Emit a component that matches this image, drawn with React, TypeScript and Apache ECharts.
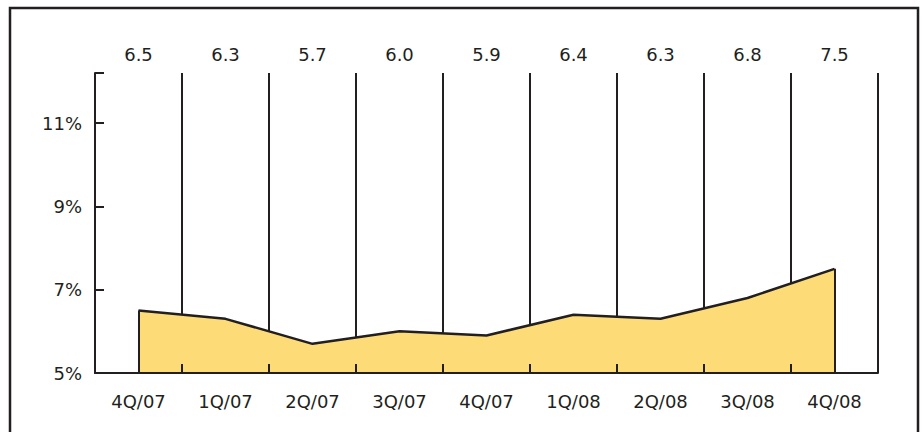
import React, { useEffect, useRef } from "react";
import * as echarts from "echarts";

const categories = ["4Q/07", "1Q/07", "2Q/07", "3Q/07", "4Q/07", "1Q/08", "2Q/08", "3Q/08", "4Q/08"];
const values = [6.5, 6.3, 5.7, 6.0, 5.9, 6.4, 6.3, 6.8, 7.5];
const topLabels = ["6.5", "6.3", "5.7", "6.0", "5.9", "6.4", "6.3", "6.8", "7.5"];
const yMin = 5;
const yMax = 12.2;
const yLabelValues = [5, 7, 9, 11];
const yTickValues = [5, 7, 9, 11, 12.2];

const DARK = "#231f20";
const FONT = "DejaVu Sans";

export default function App() {
  const ref = useRef<HTMLDivElement>(null);
  useEffect(() => {
    if (!ref.current) return;
    const chart = echarts.init(ref.current, null, { renderer: "svg" });
    const n = values.length;
    chart.setOption({
      animation: false,
      backgroundColor: "#ffffff",
      grid: { left: 95, right: 44, top: 73, bottom: 59 },
      graphic: [
        {
          type: "rect",
          shape: { x: 10, y: 8, width: 908, height: 440 },
          style: { fill: "none", stroke: DARK, lineWidth: 2.5 },
          z: 100,
        },
      ],
      xAxis: [
        {
          type: "category",
          position: "bottom",
          data: categories,
          boundaryGap: true,
          z: 10,
          axisLine: { show: true, lineStyle: { color: DARK, width: 2 } },
          axisTick: { show: true, inside: true, length: 9, lineStyle: { color: DARK, width: 2 } },
          axisLabel: { color: DARK, fontSize: 18, fontFamily: FONT, margin: 19 },
          splitLine: { show: false },
        },
        {
          type: "category",
          position: "top",
          data: topLabels,
          boundaryGap: true,
          axisLine: { show: false },
          axisTick: { show: false },
          axisLabel: { color: DARK, fontSize: 18, fontFamily: FONT, margin: 10 },
          splitLine: { show: true, lineStyle: { color: DARK, width: 2 } },
        },
      ],
      yAxis: {
        type: "value",
        min: yMin,
        max: yMax,
        axisLine: { show: true, lineStyle: { color: DARK, width: 2 } },
        axisTick: {
          show: true,
          inside: true,
          length: 9,
          customValues: yTickValues,
          lineStyle: { color: DARK, width: 2 },
        },
        axisLabel: {
          color: DARK,
          fontSize: 18,
          fontFamily: FONT,
          margin: 13,
          customValues: yLabelValues,
          formatter: (v: number) => `${v}%`,
        },
        splitLine: { show: false },
      },
      series: [
        {
          type: "line",
          xAxisIndex: 0,
          data: values,
          symbol: "none",
          lineStyle: { color: DARK, width: 2.5 },
          areaStyle: { color: "#FDDC78", opacity: 1 },
          z: 2,
          markLine: {
            silent: true,
            symbol: "none",
            label: { show: false },
            lineStyle: { color: DARK, width: 2, type: "solid" },
            data: [
              [{ coord: [0, values[0]] }, { coord: [0, yMin] }],
              [{ coord: [n - 1, values[n - 1]] }, { coord: [n - 1, yMin] }],
            ],
          },
        },
      ],
    });
    return () => chart.dispose();
  }, []);
  return (
    <div
      ref={ref}
      style={{ position: "fixed", left: 0, top: 0, width: 922, height: 432 }}
    />
  );
}
